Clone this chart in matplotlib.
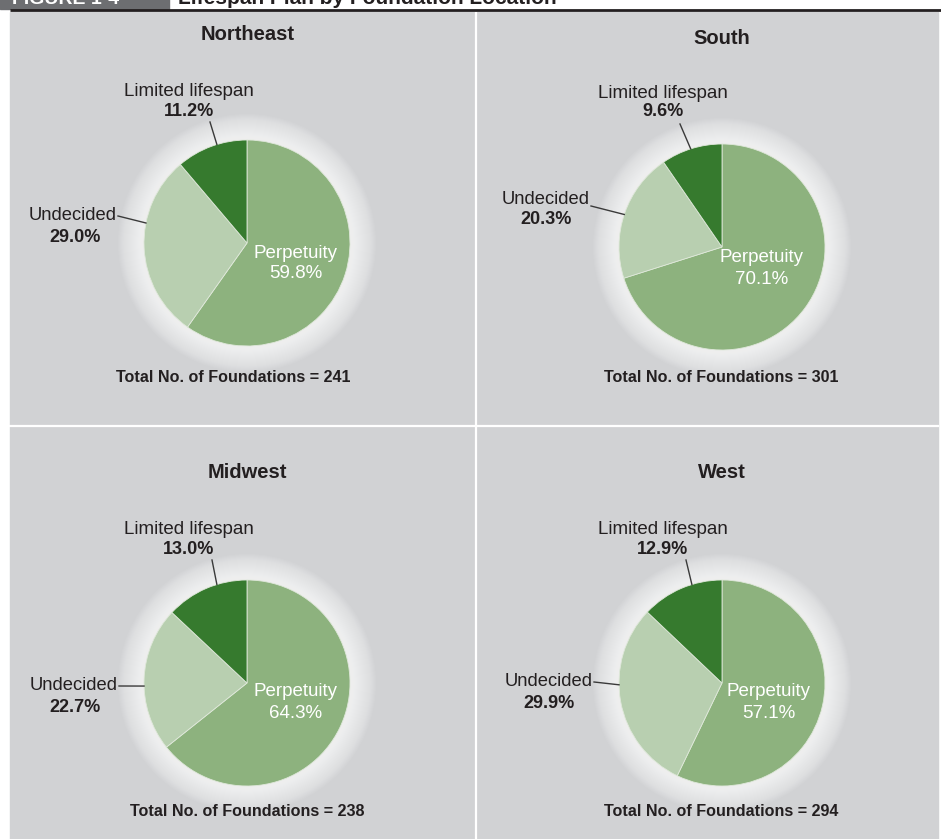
import matplotlib.pyplot as plt
from matplotlib.patches import Circle, Rectangle
import numpy as np

plt.rcParams['font.family'] = ['Liberation Sans', 'DejaVu Sans']

# data
regions = ['Northeast', 'South', 'Midwest', 'West']
categories = ['Perpetuity', 'Undecided', 'Limited lifespan']
perpetuity = [59.8, 70.1, 64.3, 57.1]
undecided = [29.0, 20.3, 22.7, 29.9]
limited = [11.2, 9.6, 13.0, 12.9]
totals = [241, 301, 238, 294]

colors = ['#8db27e', '#b8cfb0', '#367a2e']
bg = '#d1d2d4'
txt = '#231f20'

W, H = 941, 839

# layout in image pixels (y down), converted below
centers = [(247, 243), (722, 247), (247, 683), (722, 683)]
radius = 103
title_pos = [(248, 34), (722, 38), (247, 473), (722, 473)]
total_pos = [(233, 378), (721, 377), (247, 812), (721, 812)]
lim_txt = [(189, 92), (663, 93), (189, 530), (663, 530)]
lim_line = [(210, 122), (680, 124), (212, 560), (686, 560)]
lim_ang = [107, 107.7, 107, 107]
und_txt = [(75, 216), (546, 199), (75, 686), (549, 682)]
und_line = [(118, 216), (591, 206), (119, 686), (594, 682)]
und_ang = [168.8, 161.6, 181.7, 181]
perp_txt = [(296, 253), (762, 258), (296, 692), (769, 692)]


def Y(y):
    return H - y


fig = plt.figure(figsize=(W / 100, H / 100), dpi=100)
fig.patch.set_facecolor('white')
ax = fig.add_axes([0, 0, 1, 1])
ax.set_xlim(0, W)
ax.set_ylim(0, H)
ax.axis('off')

# header (cut off at the top edge, as in the source)
ax.add_patch(Rectangle((0, Y(8.5)), 169, 12, color='#6d6e71', zorder=1))
ax.text(12, Y(4), 'FIGURE 1-4', color='white', fontsize=14, fontweight='bold',
        va='baseline', ha='left', zorder=2)
ax.text(178, Y(4), 'Lifespan Plan by Foundation Location', color=txt, fontsize=15,
        fontweight='bold', va='baseline', ha='left', zorder=2)
ax.plot([10, W], [Y(10), Y(10)], color='#231f20', lw=2, zorder=2, solid_capstyle='butt')

# panel background and dividers
ax.add_patch(Rectangle((10, 0), 928, Y(11.5), color=bg, zorder=0.5))
ax.plot([476, 476], [0, Y(12)], color='white', lw=1.6, zorder=1)
ax.plot([10, 938], [Y(426), Y(426)], color='white', lw=1.6, zorder=1)

for i, name in enumerate(regions):
    cx, cy = centers[i][0], Y(centers[i][1])
    # soft white glow
    for k in range(26, 0, -1):
        ax.add_patch(Circle((cx, cy), radius + k, color='white', alpha=0.06,
                            lw=0, zorder=1))
    vals = [perpetuity[i], undecided[i], limited[i]]
    ax.pie(vals, colors=colors, startangle=90, counterclock=False,
           center=(cx, cy), radius=radius, frame=True,
           wedgeprops=dict(edgecolor='#dfe8da', linewidth=0.6, zorder=3))

    ax.text(title_pos[i][0], Y(title_pos[i][1]), name, fontsize=14.5,
            fontweight='bold', color=txt, ha='center', va='center', zorder=5)
    ax.text(total_pos[i][0], Y(total_pos[i][1]),
            f'Total No. of Foundations = {totals[i]}', fontsize=11.6,
            fontweight='bold', color=txt, ha='center', va='center', zorder=5)

    # limited lifespan label
    lx, ly = lim_txt[i]
    ax.text(lx, Y(ly), categories[2], fontsize=13.5, color=txt,
            ha='center', va='center', zorder=5)
    ax.text(lx, Y(ly + 19), f'{limited[i]:.1f}%', fontsize=13,
            fontweight='bold', color=txt, ha='center', va='center', zorder=5)
    a = np.radians(lim_ang[i])
    ax.plot([lim_line[i][0], cx + radius * np.cos(a)],
            [Y(lim_line[i][1]), cy + radius * np.sin(a)],
            color='#3a3a3a', lw=1, zorder=4)

    # undecided label
    ux, uy = und_txt[i]
    ax.text(und_line[i][0] - 1.5, Y(uy), categories[1], fontsize=13.2, color=txt,
            ha='right', va='center', zorder=5)
    ax.text(ux, Y(uy + 21), f'{undecided[i]:.1f}%', fontsize=13,
            fontweight='bold', color=txt, ha='center', va='center', zorder=5)
    a = np.radians(und_ang[i])
    ax.plot([und_line[i][0], cx + radius * np.cos(a)],
            [Y(und_line[i][1]), cy + radius * np.sin(a)],
            color='#3a3a3a', lw=1, zorder=4)

    # perpetuity label inside
    px, py = perp_txt[i]
    ax.text(px, Y(py), categories[0], fontsize=13.5, color='white',
            ha='center', va='center', zorder=5)
    ax.text(px, Y(py + 21), f'{perpetuity[i]:.1f}%', fontsize=13.5,
            color='white', ha='center', va='center', zorder=5)

ax.set_xlim(0, W)
ax.set_ylim(0, H)
ax.set_aspect('auto')
ax.axis('off')

fig.savefig('out.png', dpi=100, facecolor='white')
